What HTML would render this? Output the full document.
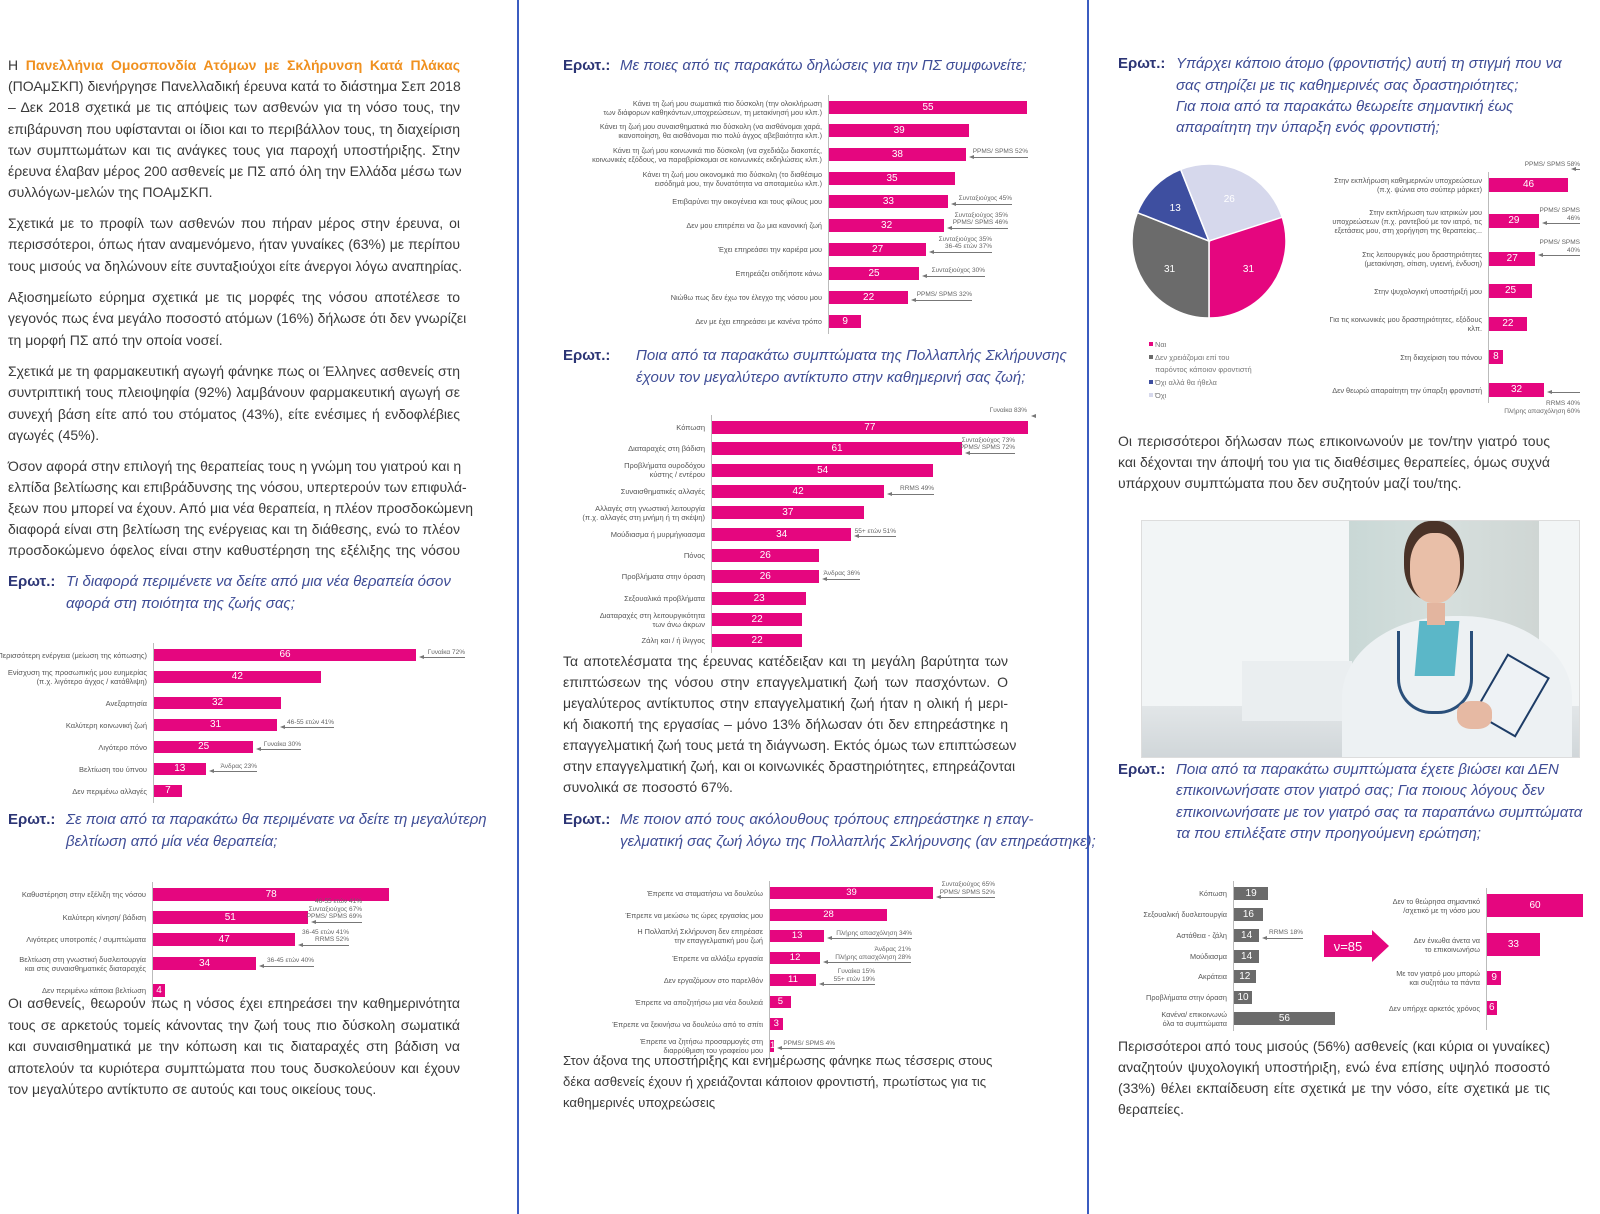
<!DOCTYPE html>
<html><head><meta charset="utf-8">
<style>
html,body{margin:0;padding:0;background:#fff;}
body{width:1600px;height:1214px;position:relative;overflow:hidden;font-family:"Liberation Sans","DejaVu Sans",sans-serif;}
.ab{position:absolute;white-space:nowrap;}
.ln{position:absolute;white-space:nowrap;font-size:14px;color:#3a3a3a;text-align:justify;text-align-last:justify;height:20px;line-height:20px;}
.ln.l{text-align-last:left;}
.q{position:absolute;white-space:nowrap;font-size:15px;font-style:italic;color:#3f4d96;line-height:21px;}
.qh{position:absolute;font-size:15px;font-weight:bold;color:#2c3575;line-height:21px;}
.vl{position:absolute;top:0;width:2px;height:1214px;background:#3b5cc0;}
.lab{position:absolute;font-size:8px;color:#555;text-align:right;line-height:9px;white-space:nowrap;}
.bar{position:absolute;color:#fff;font-size:10px;text-align:center;overflow:visible;white-space:nowrap;}
.ann{position:absolute;font-size:6.5px;color:#666;text-align:right;line-height:7.5px;white-space:nowrap;}
.arr{position:absolute;height:1px;background:#777;}
.arr:before{content:"";position:absolute;left:-4px;top:-2px;border-right:5px solid #777;border-top:2.5px solid transparent;border-bottom:2.5px solid transparent;}
.ax{position:absolute;width:1px;background:#bbb;}
</style></head><body>
<div class="vl" style="left:517px"></div>
<div class="vl" style="left:1087px"></div>

<div id="root"></div>

<!-- photo -->
<div class="ab" style="left:1141px;top:520px;width:439px;height:238px;background:#f2f5f6;overflow:hidden;border:1px solid #ddd;box-sizing:border-box;">
 <div class="ab" style="left:207px;top:0;width:190px;height:200px;background:linear-gradient(90deg,#c9d8d6,#d6dfdd 50%,#cfd6d4);"></div>
 <div class="ab" style="left:0;top:185px;width:439px;height:55px;background:linear-gradient(#e2e6e8,#cfd5d8);"></div>
 <div class="ab" style="left:100px;top:140px;width:110px;height:60px;background:#eaeef0;"></div>
 <div class="ab" style="left:200px;top:95px;width:230px;height:170px;border-radius:48% 48% 0 0;background:#edf1f3;"></div>
 <div class="ab" style="left:275px;top:100px;width:40px;height:55px;background:#5bb7c8;transform:skewX(-5deg);"></div>
 <div class="ab" style="left:262px;top:0;width:60px;height:80px;border-radius:45%;background:#4a3328;"></div>
 <div class="ab" style="left:268px;top:12px;width:50px;height:70px;border-radius:45%;background:#e9bfa8;"></div>
 <div class="ab" style="left:285px;top:82px;width:18px;height:22px;background:#e3b59f;"></div>
 <div class="ab" style="left:255px;top:110px;width:70px;height:80px;border:3px solid #2a4f7a;border-top:none;border-radius:0 0 35px 35px;"></div>
 <div class="ab" style="left:345px;top:140px;width:45px;height:65px;background:#eef2f5;border:2px solid #1d3c66;transform:rotate(30deg);"></div>
 <div class="ab" style="left:315px;top:180px;width:35px;height:28px;border-radius:40%;background:#e6b9a3;"></div>
</div>

<script>
const R=document.getElementById('root');
function el(cls,st,html){const d=document.createElement('div');d.className=cls;d.style.cssText=st;if(html!==undefined)d.innerHTML=html;R.appendChild(d);return d;}
function lines(x,w,arr,fs){arr.forEach(a=>{const last=a[2];el('ln'+(last?' l':''),`left:${x}px;top:${a[0]-11}px;width:${w}px;${fs?'font-size:'+fs+'px;':''}`,a[1]);});}
function q(x,xi,ys,ls){el('qh',`left:${x}px;top:${ys[0]-11}px`,'Ερωτ.:');ls.forEach((t,i)=>el('q',`left:${xi}px;top:${ys[i]-11}px`,t));}
function chart(c){
 const h=c.h||13, col=c.col||'#e5067f';
 el('ax',`left:${c.ax}px;top:${c.ys[0]-6}px;height:${c.ys[c.ys.length-1]-c.ys[0]+h+12}px`);
 c.rows.forEach((r,i)=>{
  const y=c.ys[i], hh=(r[4]||h), w=Math.max(r[1]*c.s,3);
  const nl=r[0].split('|').length;
  el('lab',`right:${1600-c.ax+6}px;top:${y+hh/2-nl*4.5}px;font-size:${c.fs||8}px`,r[0].replace(/\|/g,'<br>'));
  el('bar',`left:${c.ax+1}px;top:${y}px;width:${w}px;height:${hh}px;line-height:${hh}px;background:${col};font-size:${c.vfs||10}px`,r[1]);
  if(r[2]){
   const x1=c.ax+w+8, e=r[3], ay=y+hh/2+(r[5]||2);
   el('arr',`left:${x1}px;top:${ay}px;width:${e-x1}px`);
   const n=r[2].split('|').length;
   el('ann',`right:${1600-e}px;top:${r[6]!==undefined?ay+r[6]:ay-n*7.5-1}px`,r[2].replace(/\|/g,'<br>'));
  }
 });
}

/* LEFT COLUMN */
el('ln','left:8px;top:55px;width:452px','Η <b style="color:#f0901e">Πανελλήνια Ομοσπονδία Ατόμων με Σκλήρυνση Κατά Πλάκας</b>');
lines(8,452,[[87,'(ΠΟΑμΣΚΠ) διενήργησε Πανελλαδική έρευνα κατά το διάστημα Σεπ 2018'],[108,'– Δεκ 2018 σχετικά με τις απόψεις των ασθενών για τη νόσο τους, την'],[130,'επιβάρυνση που υφίστανται οι ίδιοι και το περιβάλλον τους, τη διαχείριση'],[151,'των συμπτωμάτων και τις ανάγκες τους για παροχή υποστήριξης. Στην'],[172,'έρευνα έλαβαν μέρος 200 ασθενείς με ΠΣ από όλη την Ελλάδα μέσω των'],[193,'συλλόγων-μελών της ΠΟΑμΣΚΠ.',1],
[224,'Σχετικά με το προφίλ των ασθενών που πήραν μέρος στην έρευνα, οι'],[245,'περισσότεροι, όπως ήταν αναμενόμενο, ήταν γυναίκες (63%) με περίπου'],[267,'τους μισούς να δηλώνουν είτε συνταξιούχοι είτε άνεργοι λόγω αναπηρίας.',1],
[298,'Αξιοσημείωτο εύρημα σχετικά με τις μορφές της νόσου αποτέλεσε το'],[319,'γεγονός πως ένα μεγάλο ποσοστό ατόμων (16%) δήλωσε ότι δεν γνωρίζει'],[341,'τη μορφή ΠΣ από την οποία νοσεί.',1],
[372,'Σχετικά με τη φαρμακευτική αγωγή φάνηκε πως οι Έλληνες ασθενείς στη'],[393,'συντριπτική τους πλειοψηφία (92%) λαμβάνουν φαρμακευτική αγωγή σε'],[415,'συνεχή βάση είτε από του στόματος (43%), είτε ενέσιμες ή ενδοφλέβιες'],[436,'αγωγές (45%).',1],
[467,'Όσον αφορά στην επιλογή της θεραπείας τους η γνώμη του γιατρού και η'],[488,'ελπίδα βελτίωσης και επιβράδυνσης της νόσου, υπερτερούν των επιφυλά-'],[509,'ξεων που μπορεί να έχουν.  Από μια νέα θεραπεία, η πλέον προσδοκώμενη'],[530,'διαφορά είναι στη βελτίωση της ενέργειας και τη διάθεσης, ενώ το πλέον'],[551,'προσδοκώμενο όφελος είναι στην καθυστέρηση της εξέλιξης της νόσου'],
[1004,'Οι ασθενείς, θεωρούν πως η νόσος έχει επηρεάσει την καθημερινότητα'],[1026,'τους σε αρκετούς τομείς κάνοντας την ζωή τους πιο δύσκολη σωματικά'],[1047,'και συναισθηματικά με την κόπωση και τις διαταραχές στη βάδιση να'],[1069,'αποτελούν τα κυριότερα συμπτώματα που τους δυσκολεύουν και έχουν'],[1090,'τον μεγαλύτερο αντίκτυπο σε αυτούς και τους οικείους τους.',1]]);
q(8,66,[582,604],['Τι διαφορά περιμένετε να δείτε από μια νέα  θεραπεία όσον','αφορά στη ποιότητα της ζωής σας;']);
q(8,66,[820,842],['Σε ποια από τα παρακάτω θα περιμένατε να δείτε τη μεγαλύτερη','βελτίωση από μία νέα  θεραπεία;']);
chart({ax:153,s:3.97,h:12,fs:7.5,ys:[649,671,697,719,741,763,785],rows:[
 ['Περισσότερη ενέργεια (μείωση της κόπωσης)',66,'Γυναίκα 72%',465],
 ['Ενίσχυση της προσωπικής μου ευημερίας|(π.χ. λιγότερο άγχος / κατάθλιψη)',42],
 ['Ανεξαρτησία',32],['Καλύτερη κοινωνική ζωή',31,'46-55 ετών 41%',334],
 ['Λιγότερο πόνο',25,'Γυναίκα 30%',301],['Βελτίωση του ύπνου',13,'Άνδρας 23%',257],['Δεν περιμένω αλλαγές',7]]});
chart({ax:152,s:3.03,h:13,fs:7.5,ys:[888,911,933,957,984],rows:[
 ['Καθυστέρηση στην εξέλιξη της νόσου',78],
 ['Καλύτερη κίνηση/ βάδιση',51,'46-55 ετών 41%|Συνταξιούχος 67%|PPMS/ SPMS 69%',362,0,4],
 ['Λιγότερες υποτροπές / συμπτώματα',47,'36-45 ετών 41%|RRMS 52%',349,0,5],
 ['Βελτίωση στη γνωστική δυσλειτουργία|και στις συναισθηματικές διαταραχές',34,'36-45 ετών 40%',314],
 ['Δεν περιμένω κάποια βελτίωση',4]]});

/* MIDDLE COLUMN */
q(563,620,[66],['Με ποιες από τις παρακάτω δηλώσεις για την ΠΣ συμφωνείτε;']);
chart({ax:828,s:3.6,h:13,fs:7.3,ys:[101,124,148,172,195,219,243,267,291,315],rows:[
 ['Κάνει τη ζωή μου σωματικά πιο δύσκολη (την ολοκλήρωση|των διάφορων καθηκόντων,υποχρεώσεων, τη μετακίνησή μου κλπ.)',55],
 ['Κάνει τη ζωή μου συναισθηματικά πιο δύσκολη (να αισθάνομαι χαρά,|ικανοποίηση, θα αισθάνομαι πιο πολύ άγχος αβεβαιότητα κλπ.)',39],
 ['Κάνει τη ζωή μου κοινωνικά πιο δύσκολη (να σχεδιάζω διακοπές,|κοινωνικές εξόδους, να παραβρίσκομαι σε κοινωνικές εκδηλώσεις κλπ.)',38,'PPMS/ SPMS 52%',1028],
 ['Κάνει τη ζωή μου οικονομικά πιο δύσκολη (το διαθέσιμο|εισόδημά μου, την δυνατότητα να αποταμιεύω κλπ.)',35],
 ['Επιβαρύνει την οικογένεια και τους φίλους μου',33,'Συνταξιούχος 45%',1012],
 ['Δεν μου επιτρέπει να ζω μια κανονική ζωή',32,'Συνταξιούχος 35%|PPMS/ SPMS 46%',1008],
 ['Έχει επηρεάσει την καριέρα μου',27,'Συνταξιούχος 35%|36-45 ετών 37%',992],
 ['Επηρεάζει οτιδήποτε κάνω',25,'Συνταξιούχος 30%',985],
 ['Νιώθω πως δεν έχω τον έλεγχο της νόσου μου',22,'PPMS/ SPMS 32%',972],
 ['Δεν με έχει επηρεάσει με κανένα τρόπο',9]]});
q(563,636,[356,378],['Ποια από τα παρακάτω συμπτώματα της Πολλαπλής Σκλήρυνσης','έχουν τον μεγαλύτερο αντίκτυπο στην καθημερινή σας ζωή;']);
chart({ax:711,s:4.1,h:13,fs:7.5,ys:[421,442.3,463.6,485,506.3,527.6,549,570.3,591.6,613,634.3],rows:[
 ['Κόπωση',77,'Γυναίκα 83%',1027,0,-12],
 ['Διαταραχές στη βάδιση',61,'Συνταξιούχος 73%|PPMS/ SPMS 72%',1015,0,4],
 ['Προβλήματα ουροδόχου|κύστης / εντέρου',54],
 ['Συναισθηματικές αλλαγές',42,'RRMS 49%',934],
 ['Αλλαγές στη γνωστική λειτουργία|(π.χ. αλλαγές στη μνήμη ή τη σκέψη)',37],
 ['Μούδιασμα ή μυρμήγκιασμα',34,'55+ ετών 51%',896],
 ['Πόνος',26],['Προβλήματα στην όραση',26,'Άνδρας 36%',860],
 ['Σεξουαλικά προβλήματα',23],['Διαταραχές στη λειτουργικότητα|των άνω άκρων',22],['Ζάλη και / ή ίλιγγος',22]]});
lines(563,445,[[662,'Τα αποτελέσματα της έρευνας κατέδειξαν και τη μεγάλη βαρύτητα των'],[683,'επιπτώσεων της νόσου στην επαγγελματική ζωή των πασχόντων. Ο'],[704,'μεγαλύτερος αντίκτυπος στην επαγγελματική ζωή ήταν η ολική ή μερι-'],[725,'κή διακοπή της εργασίας – μόνο 13% δήλωσαν ότι δεν επηρεάστηκε η'],[746,'επαγγελματική ζωή τους μετά τη διάγνωση. Εκτός όμως των επιπτώσεων'],[767,'στην επαγγελματική ζωή, και οι κοινωνικές δραστηριότητες, επηρεάζονται'],[788,'συνολικά σε ποσοστό 67%.',1]]);
q(563,620,[820,842],['Με ποιον από τους ακόλουθους τρόπους επηρεάστηκε η επαγ-','γελματική σας ζωή λόγω της Πολλαπλής Σκλήρυνσης (αν επηρεάστηκε);']);
chart({ax:769,s:4.18,h:12,fs:7.3,vfs:9.5,ys:[887,909,930,952,974,996,1018,1040],rows:[
 ['Έπρεπε να σταματήσω να δουλεύω',39,'Συνταξιούχος 65%|PPMS/ SPMS 52%',995,0,4],
 ['Έπρεπε να μειώσω τις ώρες εργασίας μου',28],
 ['Η Πολλαπλή Σκλήρυνση δεν επηρέασε|την επαγγελματική μου ζωή',13,'Πλήρης απασχόληση 34%',912],
 ['Έπρεπε να αλλάξω εργασία',12,'Άνδρας 21%|Πλήρης απασχόληση 28%',911,0,4],
 ['Δεν εργαζόμουν στο παρελθόν',11,'Γυναίκα 15%|55+ ετών 19%',875,0,4],
 ['Έπρεπε να αποζητήσω μια νέα δουλειά',5],
 ['Έπρεπε να ξεκινήσω να δουλεύω από το σπίτι',3],
 ['Έπρεπε να ζητήσω προσαρμογές στη|διαρρύθμιση του γραφείου μου',1,'PPMS/ SPMS 4%',835]]});
lines(563,445,[[1062,'Στον άξονα της υποστήριξης και ενημέρωσης φάνηκε πως τέσσερις στους',1],[1083,'δέκα ασθενείς έχουν ή χρειάζονται κάποιον φροντιστή, πρωτίστως για τις',1],[1104,'καθημερινές υποχρεώσεις',1]],13.2);

/* RIGHT COLUMN */
q(1118,1176,[64,86,107,128],['Υπάρχει κάποιο άτομο (φροντιστής) αυτή τη στιγμή που να','σας στηρίζει με τις καθημερινές σας δραστηριότητες;','Για ποια από τα παρακάτω θεωρείτε σημαντική έως','απαραίτητη την ύπαρξη ενός φροντιστή;']);
chart({ax:1488,s:1.72,h:14,fs:7.3,ys:[178,214,252,284,317,350,383],rows:[
 ['Στην εκπλήρωση καθημερινών υποχρεώσεων|(π.χ. ψώνια στο σούπερ μάρκετ)',46,'PPMS/ SPMS 58%',1580,0,-16],
 ['Στην εκπλήρωση των ιατρικών μου|υποχρεώσεων (π.χ. ραντεβού με τον ιατρό, τις|εξετάσεις μου, στη χορήγηση της θεραπείας...',29,'PPMS/ SPMS|46%',1580],
 ['Στις λειτουργικές μου δραστηριότητες|(μετακίνηση, σίτιση, υγιεινή, ένδυση)',27,'PPMS/ SPMS|40%',1580,0,-4],
 ['Στην ψυχολογική υποστήριξή μου',25],
 ['Για τις κοινωνικές μου δραστηριότητες, εξόδους|κλπ.',22],
 ['Στη διαχείριση του πόνου',8],
 ['Δεν θεωρώ απαραίτητη την ύπαρξη φροντιστή',32,'RRMS 40%|Πλήρης απασχόληση 60%',1580,0,0,8]]});
(function(){
 const cx=1209,cy=241,r=77;
 const sl=[[68.4,180,'#e5067f','31'],[180,291.6,'#6b6b6b','31'],[291.6,338.4,'#3e4fa0','13'],[338.4,432,'#d6d8ec','26']];
 let s='<svg width="1600" height="1214" style="position:absolute;left:0;top:0">';
 sl.forEach(a=>{const p=d=>[cx+r*Math.sin(d*Math.PI/180),cy-r*Math.cos(d*Math.PI/180)];const [x1,y1]=p(a[0]),[x2,y2]=p(a[1]);const m=(a[0]+a[1])/2;const tx=cx+r*0.62*Math.sin(m*Math.PI/180),ty=cy-r*0.62*Math.cos(m*Math.PI/180);
 s+=`<path d="M${cx},${cy} L${x1},${y1} A${r},${r} 0 ${a[1]-a[0]>180?1:0} 1 ${x2},${y2} Z" fill="${a[2]}" stroke="#fff" stroke-width="1.5"/><text x="${tx}" y="${ty+4}" fill="#fff" font-size="10" text-anchor="middle" font-family="Liberation Sans">${a[3]}</text>`;});
 s+='</svg>';el('ab','left:0;top:0',s);
 const lg=[[345,'#e5067f','Ναι'],[358,'#6b6b6b','Δεν χρειάζομαι επί του'],[370,null,'παρόντος κάποιον φροντιστή'],[383,'#3e4fa0','Όχι αλλά θα ήθελα'],[396,'#d6d8ec','Όχι']];
 lg.forEach(l=>{if(l[1])el('ab',`left:1149px;top:${l[0]-3}px;width:4px;height:4px;background:${l[1]}`);el('ab',`left:1155px;top:${l[0]-5}px;font-size:7.5px;color:#777`,l[2]);});
})();
lines(1118,432,[[442,'Οι περισσότεροι δήλωσαν πως επικοινωνούν με τον/την γιατρό τους'],[463,'και δέχονται την άποψή του για τις διαθέσιμες θεραπείες, όμως συχνά'],[484,'υπάρχουν συμπτώματα που δεν συζητούν μαζί του/της.',1]]);
q(1118,1176,[770,791,813,834],['Ποια από τα παρακάτω συμπτώματα έχετε βιώσει και ΔΕΝ','επικοινωνήσατε στον γιατρό σας; Για ποιους λόγους δεν','επικοινωνήσατε με τον γιατρό σας τα παραπάνω συμπτώματα','τα που επιλέξατε στην προηγούμενη ερώτηση;']);
chart({ax:1233,s:1.8,h:13,fs:7.3,col:'#6b6b6b',ys:[887,908,929,950,970,991,1012],rows:[
 ['Κόπωση',19],['Σεξουαλική δυσλειτουργία',16],['Αστάθεια - ζάλη',14,'RRMS 18%',1303],['Μούδιασμα',14],['Ακράτεια',12],['Προβλήματα στην όραση',10],['Κανένα/ επικοινωνώ|όλα τα συμπτώματα',56]]});
chart({ax:1486,s:1.6,h:23,fs:7.3,ys:[894,933,971,1001],rows:[
 ['Δεν το θεώρησα σημαντικό|/σχετικό με τη νόσο μου',60],['Δεν ένιωθα άνετα να|το επικοινωνήσω',33],['Με τον γιατρό μου μπορώ|και συζητάω τα πάντα',9,0,0,14],['Δεν υπήρχε αρκετός χρόνος',6,0,0,14]]});
el('ab','left:0;top:0','<svg width="1600" height="1214" style="position:absolute;left:0;top:0"><polygon points="1324,935 1372,935 1372,930 1389,946 1372,962 1372,957 1324,957" fill="#e5067f"/><text x="1348" y="951" fill="#fff" font-size="13" text-anchor="middle" font-family="Liberation Sans">ν=85</text></svg>');
lines(1118,432,[[1047,'Περισσότεροι από τους μισούς (56%) ασθενείς (και κύρια οι γυναίκες)'],[1068,'αναζητούν ψυχολογική υποστήριξη, ενώ ένα επίσης υψηλό ποσοστό'],[1089,'(33%) θέλει εκπαίδευση είτε σχετικά με την νόσο, είτε σχετικά με τις'],[1110,'θεραπείες.',1]]);
</script>
</body></html>
